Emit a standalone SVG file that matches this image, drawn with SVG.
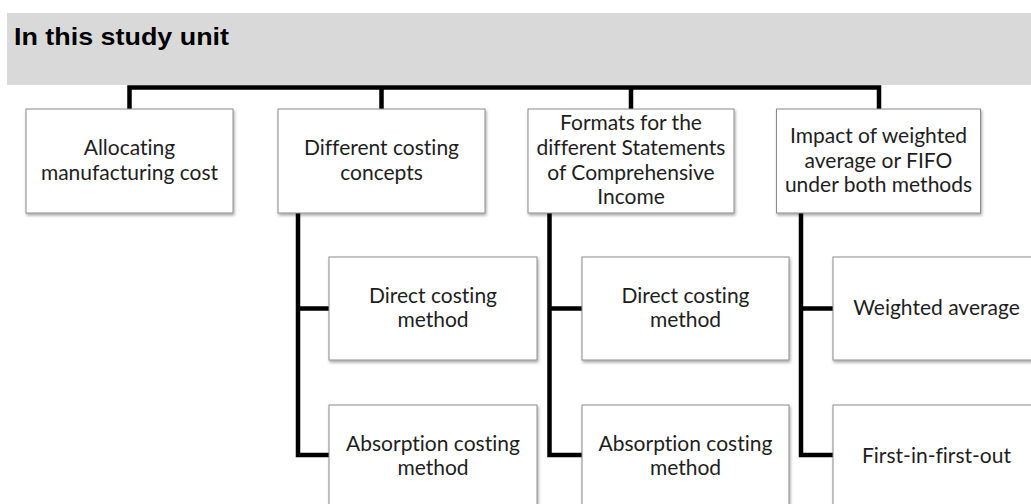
<svg xmlns="http://www.w3.org/2000/svg" width="1031" height="504" viewBox="0 0 1031 504">
  <defs>
    <filter id="sh" x="-10%" y="-10%" width="130%" height="130%">
      <feDropShadow dx="1" dy="2" stdDeviation="1.5" flood-color="#000" flood-opacity="0.35"/>
    </filter>
  </defs>
  <style>
    .box { fill: #ffffff; stroke: #8c8c8c; stroke-width: 1; filter: url(#sh); }
    .lbl { font-family: Lato, "Liberation Sans", sans-serif; font-size: 21px; fill: #1e1e1e; text-anchor: middle; font-variant-ligatures: none; }
    .wire { fill: none; stroke: #000; stroke-width: 4.5; stroke-linejoin: miter; stroke-linecap: butt; }
    .title { font-family: "Liberation Sans", Arial, sans-serif; font-size: 24px; font-weight: bold; fill: #000; }
  </style>
  <rect width="1031" height="504" fill="#ffffff"/>

  <g id="header">
    <rect x="7" y="13" width="1030" height="72" fill="#d9d9d9"/>
    <text class="title" x="14" y="45" textLength="215" lengthAdjust="spacingAndGlyphs">In this study unit</text>
  </g>

  <g id="connectors">
    <path class="wire" d="M129.5,110 V87.5 H879 V110"/>
    <path class="wire" d="M381.5,87.5 V110"/>
    <path class="wire" d="M631,87.5 V110"/>
    <path class="wire" d="M298,213 V455 H329 M298,308.5 H329"/>
    <path class="wire" d="M549.5,213 V455 H582 M549.5,308.5 H582"/>
    <path class="wire" d="M801,213 V455 H833 M801,308.5 H833"/>
  </g>

  <g id="n1">
    <rect class="box" x="26" y="109" width="207" height="104"/>
    <text class="lbl" x="129.5" y="155">Allocating</text>
    <text class="lbl" x="129.5" y="180">manufacturing cost</text>
  </g>
  <g id="n2">
    <rect class="box" x="278" y="109" width="207" height="104"/>
    <text class="lbl" x="381.5" y="155">Different costing</text>
    <text class="lbl" x="381.5" y="180">concepts</text>
  </g>
  <g id="n3">
    <rect class="box" x="528" y="109" width="206" height="104"/>
    <text class="lbl" x="631" y="129.5">Formats for the</text>
    <text class="lbl" x="631" y="154.5">different Statements</text>
    <text class="lbl" x="631" y="179.5">of Comprehensive</text>
    <text class="lbl" x="631" y="204">Income</text>
  </g>
  <g id="n4">
    <rect class="box" x="776.5" y="109" width="204" height="104"/>
    <text class="lbl" x="878.5" y="143">Impact of weighted</text>
    <text class="lbl" x="878.5" y="167.5">average or FIFO</text>
    <text class="lbl" x="878.5" y="192">under both methods</text>
  </g>

  <g id="n2a">
    <rect class="box" x="329" y="257" width="208" height="103"/>
    <text class="lbl" x="433" y="303">Direct costing</text>
    <text class="lbl" x="433" y="327">method</text>
  </g>
  <g id="n2b">
    <rect class="box" x="329" y="405" width="208" height="104"/>
    <text class="lbl" x="433" y="451">Absorption costing</text>
    <text class="lbl" x="433" y="475">method</text>
  </g>
  <g id="n3a">
    <rect class="box" x="582" y="257" width="207" height="103"/>
    <text class="lbl" x="685.5" y="303">Direct costing</text>
    <text class="lbl" x="685.5" y="327">method</text>
  </g>
  <g id="n3b">
    <rect class="box" x="582" y="405" width="207" height="104"/>
    <text class="lbl" x="685.5" y="451">Absorption costing</text>
    <text class="lbl" x="685.5" y="475">method</text>
  </g>
  <g id="n4a">
    <rect class="box" x="833" y="257" width="207" height="103"/>
    <text class="lbl" x="936.5" y="315">Weighted average</text>
  </g>
  <g id="n4b">
    <rect class="box" x="833" y="405" width="207" height="104"/>
    <text class="lbl" x="936.5" y="463">First-in-first-out</text>
  </g>
</svg>
